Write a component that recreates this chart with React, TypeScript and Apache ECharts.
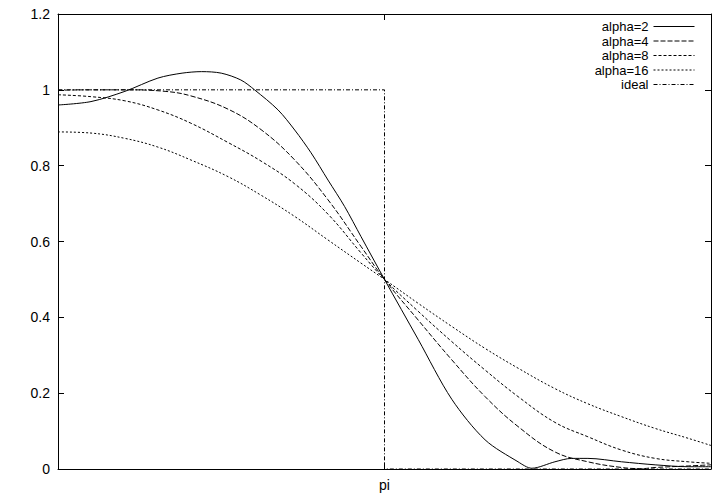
import React, { useEffect, useRef } from "react";
import * as echarts from "echarts";

// x values are in units of pi (0 .. 2 pi)
const xAlpha2 = [0, 0.101, 0.205, 0.306, 0.38, 0.44, 0.5, 0.56, 0.602, 0.674, 0.725, 0.775, 0.827, 0.878, 0.928, 1.0, 1.103, 1.206, 1.308, 1.409, 1.451, 1.522, 1.573, 1.623, 1.726, 1.829, 1.93, 2.0];
const yAlpha2 = [0.96, 0.969, 0.996, 1.031, 1.044, 1.048, 1.044, 1.026, 1.0, 0.947, 0.894, 0.834, 0.762, 0.692, 0.613, 0.5, 0.342, 0.184, 0.077, 0.019, 0.002, 0.019, 0.028, 0.028, 0.019, 0.011, 0.006, 0.006];

const xAlpha4 = [0, 0.101, 0.205, 0.328, 0.407, 0.521, 0.622, 0.725, 0.827, 0.928, 1.0, 1.103, 1.206, 1.308, 1.409, 1.522, 1.623, 1.726, 1.788, 1.829, 1.93, 2.0];
const yAlpha4 = [0.999, 1.0, 1.0, 0.996, 0.984, 0.949, 0.895, 0.815, 0.71, 0.587, 0.5, 0.393, 0.288, 0.191, 0.112, 0.045, 0.019, 0.004, 0.001, 0.004, 0.008, 0.011];

const xAlpha8 = [0, 0.101, 0.205, 0.306, 0.407, 0.521, 0.622, 0.725, 0.827, 0.928, 1.0, 1.103, 1.206, 1.308, 1.409, 1.522, 1.623, 1.726, 1.829, 1.93, 2.0];
const yAlpha8 = [0.987, 0.982, 0.971, 0.947, 0.912, 0.861, 0.812, 0.752, 0.672, 0.57, 0.5, 0.416, 0.336, 0.261, 0.191, 0.123, 0.085, 0.05, 0.028, 0.019, 0.015];

const xAlpha16 = [0, 0.101, 0.205, 0.306, 0.407, 0.521, 0.622, 0.725, 0.827, 0.928, 1.0, 1.103, 1.206, 1.308, 1.409, 1.522, 1.623, 1.726, 1.829, 1.93, 2.0];
const yAlpha16 = [0.889, 0.886, 0.872, 0.849, 0.815, 0.771, 0.722, 0.666, 0.604, 0.543, 0.5, 0.437, 0.376, 0.318, 0.266, 0.212, 0.172, 0.138, 0.107, 0.081, 0.062];

const xIdeal = [0, 1, 1, 2];
const yIdeal = [1, 1, 0, 0];

const seriesNames = ["alpha=2", "alpha=4", "alpha=8", "alpha=16", "ideal"];
const xTickLabels: Record<number, string> = { 1: "pi" };

const FONT = "'Liberation Sans', Arial, Helvetica, sans-serif";

function pairs(xs: number[], ys: number[]) {
  return xs.map((x, i) => [x, ys[i]]);
}

function axisCommon() {
  return {
    axisLine: { show: true, onZero: false, lineStyle: { color: "#000", width: 1 } },
    axisTick: { show: true, inside: true, length: 6, lineStyle: { color: "#000", width: 1 } },
    splitLine: { show: false },
  };
}

export default function App() {
  const ref = useRef<HTMLDivElement>(null);
  useEffect(() => {
    if (!ref.current) return;
    const chart = echarts.init(ref.current, undefined, { renderer: "svg" });
    const dashes: (number[] | "solid")[] = ["solid", [5, 2], [3, 2], [2, 2], [4, 2, 1, 2]];
    const smoothness = [0.3, 0.4, 0.4, 0.4, 0];
    const datasets = [
      pairs(xAlpha2, yAlpha2),
      pairs(xAlpha4, yAlpha4),
      pairs(xAlpha8, yAlpha8),
      pairs(xAlpha16, yAlpha16),
      pairs(xIdeal, yIdeal),
    ];
    const legendTop0 = 20;
    const legendStep = 14.5;
    chart.setOption({
      animation: false,
      backgroundColor: "#fff",
      grid: { left: 58, right: 9, top: 14, bottom: 35, containLabel: false },
      legend: seriesNames.map((name, i) => ({
        data: [name],
        right: 25,
        top: legendTop0 + i * legendStep,
        orient: "horizontal",
        align: "right",
        padding: 0,
        itemWidth: 41,
        itemHeight: 13,
        selectedMode: false,
        itemStyle: { opacity: 0, borderWidth: 0 },
        lineStyle: { width: 1, color: "#000" },
        textStyle: { color: "#000", fontSize: 13, fontFamily: FONT },
      })),
      xAxis: [
        {
          type: "value",
          position: "bottom",
          min: 0,
          max: 2,
          interval: 1,
          ...axisCommon(),
          axisLabel: {
            color: "#000",
            fontSize: 14,
            fontFamily: FONT,
            margin: 9,
            formatter: (v: number) => xTickLabels[v] ?? "",
          },
        },
        {
          type: "value",
          position: "top",
          min: 0,
          max: 2,
          interval: 1,
          ...axisCommon(),
          axisLabel: { show: false },
        },
      ],
      yAxis: [
        {
          type: "value",
          position: "left",
          min: 0,
          max: 1.2,
          interval: 0.2,
          ...axisCommon(),
          axisLabel: {
            color: "#000",
            fontSize: 14,
            fontFamily: FONT,
            margin: 8,
            formatter: (v: number) => String(Math.round(v * 10) / 10),
          },
        },
        {
          type: "value",
          position: "right",
          min: 0,
          max: 1.2,
          interval: 0.2,
          ...axisCommon(),
          axisLabel: { show: false },
        },
      ],
      series: seriesNames.map((name, i) => ({
        name,
        type: "line",
        xAxisIndex: 0,
        yAxisIndex: 0,
        data: datasets[i],
        showSymbol: false,
        symbol: "none",
        smooth: smoothness[i] === 0 ? false : smoothness[i],
        lineStyle: { color: "#000", width: 1, type: dashes[i] },
        itemStyle: { color: "#000" },
      })),
    });
    return () => chart.dispose();
  }, []);
  return <div ref={ref} style={{ width: 720, height: 504, position: "absolute", left: 0, top: 0, background: "#fff" }} />;
}
